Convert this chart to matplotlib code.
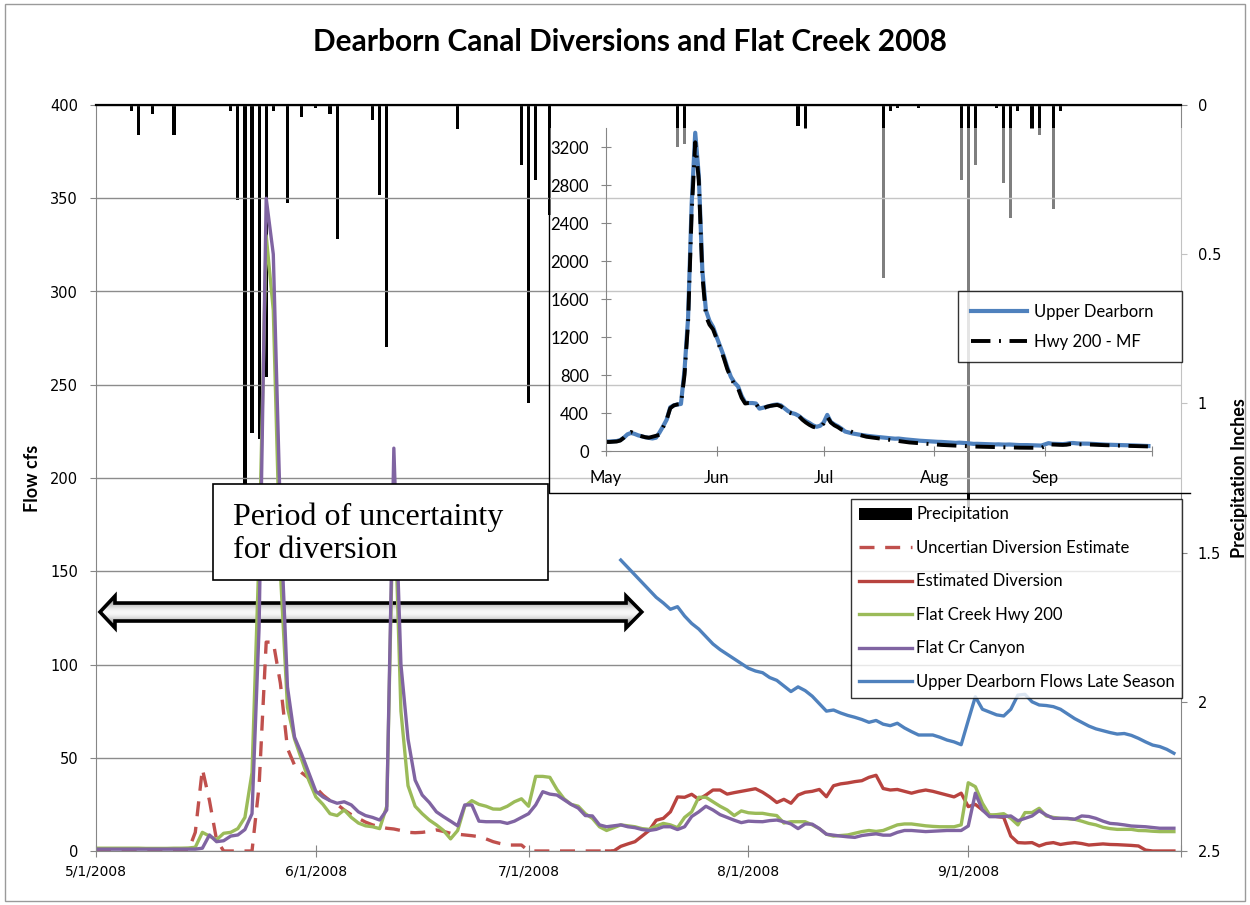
import numpy as np
import pandas as pd
import matplotlib
matplotlib.use("Agg")
import matplotlib.pyplot as plt
from matplotlib.patches import Polygon, Rectangle
from matplotlib.lines import Line2D

# daily flows, 5/1/2008 .. 9/30/2008
day = pd.date_range("2008-05-01", "2008-09-30", freq="D")

flat_creek_hwy200 = [
    1.5, 1.5, 1.5, 1.5, 1.5, 1.5, 1.5, 1.4, 1.4, 1.4, 1.4, 1.5, 1.5, 1.6,
    2.0, 10, 8, 6, 9.5, 10, 12, 18, 42, 160,
    330, 290, 150, 77, 60, 49, 38, 29, 25, 20,
    19, 22, 18, 15, 13.5, 13, 12, 24, 200, 75,
    35, 24, 20, 16.6, 14, 11, 6.5, 11, 24, 27,
    25, 24, 22.5, 22.4, 24, 26.4, 28, 24, 40, 40,
    39.5, 33, 28, 25, 24, 20, 17.5, 13, 11, 12.5,
    14, 13.5, 13, 12, 11.6, 13.4, 14.8, 14, 12.5, 18,
    21, 28.8, 28.8, 26.4, 24, 22, 19, 21.5, 20.5, 20.2,
    20.2, 19.5, 19, 15, 15.7, 15.7, 15.7, 14, 12, 9,
    8, 8.3, 8.6, 9.5, 10.4, 11, 10.5, 11, 12.5, 14,
    14.5, 14.5, 14, 13.5, 13.2, 13, 13, 13, 14, 36.6,
    34.5, 25.6, 19.3, 19.5, 20, 17.5, 14, 20.6, 20.6, 22.9,
    18.8, 18, 17.5, 17.3, 17, 16, 14.8, 14, 12.7, 12,
    11.6, 11.6, 11.6, 11, 10.9, 10.6, 10.4, 10.4, 10.4,
]

flat_cr_canyon = [
    1, 1, 1, 1, 1, 1, 1, 1, 1, 1, 1, 1, 1, 1, 1,
    1.5, 8.6, 5, 5.5, 8, 8.6, 11.5, 20, 120, 350,
    320, 180, 88, 61, 52, 42, 32, 29, 27, 25.6,
    26.4, 24.7, 21, 19, 18, 16.6, 22, 216, 100, 60,
    38, 30, 26, 21, 18.4, 16, 13.5, 24.7, 24.7, 16,
    15.7, 15.7, 15.7, 14.8, 16, 18, 20, 24.7, 31.8, 30.5,
    30, 27.5, 25, 23, 19, 18.8, 14, 13, 13.5, 14,
    13, 12.5, 11.5, 11, 11.6, 13, 13, 11.5, 13, 18.5,
    21, 24, 22, 19.5, 18, 16.5, 15.2, 16, 15.8, 15.7,
    16.3, 16.6, 15.7, 14.5, 12, 14.5, 14.4, 12, 9, 8.5,
    8, 7.6, 7.3, 8.3, 8.8, 9.2, 8.5, 8.5, 10, 11,
    11, 10.7, 10.4, 10.6, 10.8, 11, 11, 11, 13.4, 31,
    22, 18.4, 18.4, 18.4, 18.8, 16.2, 17.5, 18.8, 21.6, 19.3,
    17.5, 17.5, 17.5, 17, 18.8, 18.5, 17.5, 16, 14.8, 14.5,
    14, 13.4, 13.2, 13, 12.6, 12.2, 12.2, 12.2,
]

# 5/1 .. 7/13
uncertain_diversion = [
    0, 0, 0, 0, 0, 0, 0, 0, 0, 0, 0, 0, 0, 0,
    10, 44, 27, 6, 0, 0, 0, 0, 0, 35,
    112, 112, 90, 55, 46, 42, 39, 34, 30, 27,
    25, 22, 19.5, 17.5, 15.5, 14, 13, 12.2, 11.8, 11,
    10, 9.8, 10, 10.5, 11.3, 10.5, 9.5, 9, 8.6, 8.2,
    7.7, 6.5, 5, 4, 3.2, 3.2, 3.2, 0, 0, 0,
    0, 0, 0, 0, 0, 0, 0, 0, 0, 0,
]

# 7/12 .. 9/30
estimated_diversion = [
    0, 0, 2.5, 3.8, 5, 8, 11, 16.5, 17.5, 21,
    29, 28.8, 30.4, 27.7, 30, 32.7, 32.7, 30.5, 31.3, 32,
    32.7, 33.4, 31.5, 29, 26, 27.7, 25.6, 30, 31.5, 32,
    33, 29.1, 35, 36, 36.5, 37.2, 37.7, 39.5, 40.6, 33.5,
    32.7, 33, 32, 31, 32, 32.7, 32, 31, 30, 29,
    31, 23.8, 25, 22, 19.3, 18.5, 18, 8, 4.5, 4.3,
    4.5, 2.7, 4, 4.5, 3.5, 4.1, 4.5, 4, 3.2, 3.5,
    3.8, 3.5, 3.4, 3.2, 3, 2.7, 0.5, 0, 0, 0,
    0,
]

# Upper Dearborn, 5/1 .. 7/13 (only in the inset) and 7/14 .. 9/30
upper_dearborn_early = [
    100, 100, 102, 105, 115, 140, 175, 190, 180, 165,
    155, 145, 138, 132, 140, 195, 260, 330, 460, 480,
    490, 495, 850, 1400, 2600, 3350, 2900, 1900, 1480, 1370,
    1305, 1200, 1100, 1000, 880, 780, 720, 680, 580, 510,
    505, 505, 500, 446, 455, 465, 475, 485, 490, 480,
    450, 420, 400, 390, 370, 340, 315, 295, 270, 255,
    265, 300, 380, 305, 280, 260, 235, 205, 195, 185,
    178, 172, 166, 161,
]
upper_dearborn_late = [
    156, 152, 148, 144, 140, 136, 133, 129.6, 131, 126,
    122, 119, 115, 111, 108, 105.5, 103, 100.5, 98, 96.5,
    95.6, 93, 91.5, 88.5, 85.5, 88, 86, 83, 79, 75,
    75.6, 74, 72.7, 71.7, 70.5, 69, 70, 68, 67.2, 68.5,
    66, 64, 62.2, 62.2, 62.2, 61, 59.5, 58.5, 57, 70,
    82.7, 76, 74.5, 73, 72.4, 76, 83.6, 84, 80, 78.3,
    78, 77.4, 76, 73.5, 71, 69, 67, 65.5, 64.5, 63.5,
    62.7, 63, 62, 60.4, 58.5, 56.8, 56, 54.5, 52.4,
]

hwy200_mf = [
    95, 95, 97, 100, 110, 140, 180, 200, 185, 165,
    155, 145, 140, 150, 160, 170, 250, 330, 450, 480,
    490, 495, 800, 1350, 2500, 3250, 2850, 1850, 1420, 1330,
    1280, 1180, 1080, 980, 860, 770, 700, 660, 560, 500,
    505, 505, 500, 440, 445, 465, 475, 480, 485, 470,
    440, 410, 395, 385, 370, 330, 300, 275, 255, 245,
    250, 290, 360, 300, 270, 250, 225, 215, 215, 200,
    185, 170, 160, 150,
    145, 140, 135, 130, 125, 120, 115, 110, 105, 100,
    95, 90, 87, 84, 80, 77, 74, 71, 68, 66,
    64, 62, 60, 58, 56, 54, 52, 50, 48, 47,
    46, 45, 44, 43, 42, 41, 40, 39, 38, 38,
    37, 36, 35, 35, 34, 34, 33, 33, 33,
    50, 70, 68, 66, 65, 64, 66, 72, 74, 72,
    70, 70, 69, 68, 66, 64, 62, 61, 60, 59,
    58, 58, 57, 56, 55, 53, 52, 51, 50, 48,
]

precip_dates = [
    "2008-05-06", "2008-05-07", "2008-05-09", "2008-05-12", "2008-05-20",
    "2008-05-21", "2008-05-22", "2008-05-23", "2008-05-24", "2008-05-25",
    "2008-05-26", "2008-05-28", "2008-05-30", "2008-06-01", "2008-06-03",
    "2008-06-04", "2008-06-09", "2008-06-10", "2008-06-11", "2008-06-21",
    "2008-06-30", "2008-07-01", "2008-07-02", "2008-07-04", "2008-07-22",
    "2008-07-23", "2008-08-08", "2008-08-09", "2008-08-20", "2008-08-21",
    "2008-08-22", "2008-08-25", "2008-08-31", "2008-09-01", "2008-09-02",
    "2008-09-05", "2008-09-06", "2008-09-07", "2008-09-08", "2008-09-10",
    "2008-09-11", "2008-09-13", "2008-09-14",
]
precip_in = [
    0.02, 0.10, 0.03, 0.10, 0.02,
    0.32, 1.40, 1.10, 1.12, 0.91,
    0.02, 0.33, 0.04, 0.01, 0.03,
    0.45, 0.05, 0.30, 0.81, 0.08,
    0.20, 1.00, 0.25, 0.37, 0.14,
    0.13, 0.07, 0.08, 0.58, 0.02,
    0.01, 0.01, 0.25, 1.35, 0.20,
    0.01, 0.26, 0.38, 0.02, 0.08,
    0.10, 0.35, 0.02,
]

month_ticks = pd.to_datetime(["2008-05-01", "2008-06-01", "2008-07-01",
                              "2008-08-01", "2008-09-01", "2008-10-01"])
main_xlabels = ["5/1/2008", "6/1/2008", "7/1/2008", "8/1/2008", "9/1/2008", ""]
inset_xlabels = ["May", "Jun", "Jul", "Aug", "Sep", ""]

BLUE = "#4F81BD"
RED = "#C0504D"
GREEN = "#9BBB59"
PURPLE = "#8064A2"
GRAY = "#868686"
SANS = "Lato"

W, H = 1250, 905
def fx(px):
    return px / W
def fy(py):
    return (H - py) / H

fig = plt.figure(figsize=(12.5, 9.05), dpi=100)
fig.add_artist(Rectangle((0.004, 0.004), 0.992, 0.992, transform=fig.transFigure,
                         fill=False, ec="#9a9a9a", lw=1))

rect = [fx(96), fy(851), fx(1181) - fx(96), fy(105) - fy(851)]
ax = fig.add_axes(rect)
ax2 = ax.twinx()
deco = fig.add_axes(rect)
ax2.set_zorder(0)
deco.set_zorder(1)
ax.set_zorder(2)
ax.patch.set_visible(False)
deco.patch.set_visible(False)
deco.axis("off")

# precipitation bars hanging from the top
ax2.bar(pd.to_datetime(precip_dates), precip_in, width=0.45, color="black",
        label="Precipitation")
ax2.set_ylim(2.5, 0)
ax2.set_yticks([0, 0.5, 1, 1.5, 2, 2.5])
ax2.set_yticklabels(["0", "0.5", "1", "1.5", "2", "2.5"])
ax2.tick_params(axis="y", length=4, color=GRAY, labelsize=10.5, pad=8)
for s in ["top", "left", "bottom"]:
    ax2.spines[s].set_visible(False)
ax2.spines["right"].set_color(GRAY)

lw = 2.4
ax.plot(day[:74], uncertain_diversion, color=RED, lw=lw, dashes=(4.5, 3.2),
        label="Uncertian Diversion Estimate")
ax.plot(day[72:], estimated_diversion, color="#B8433F", lw=lw, label="Estimated Diversion")
ax.plot(day, flat_creek_hwy200, color=GREEN, lw=lw, label="Flat Creek Hwy 200")
ax.plot(day, flat_cr_canyon, color=PURPLE, lw=lw, label="Flat Cr Canyon")
ax.plot(day[74:], upper_dearborn_late, color=BLUE, lw=lw,
        label="Upper Dearborn Flows Late Season")

ax.set_xlim(pd.Timestamp("2008-05-01"), pd.Timestamp("2008-10-01"))
ax.set_ylim(0, 400)
ax.set_yticks(range(0, 401, 50))
ax.set_xticks(month_ticks)
ax.set_xticklabels(main_xlabels)
ax.grid(axis="y", color="#8c8c8c", lw=1)
ax.set_axisbelow(True)
ax.tick_params(axis="y", length=4, color=GRAY, labelsize=10.5, pad=9)
ax.tick_params(axis="x", direction="inout", length=8, color=GRAY, labelsize=10, pad=6)
for s in ["left", "bottom"]:
    ax.spines[s].set_color(GRAY)
ax.spines["right"].set_visible(False)
ax.spines["top"].set_color("black")
ax.spines["top"].set_linewidth(1.6)

fig.text(fx(33), fy(478), "Flow cfs", rotation=90, ha="center", va="center",
         family=SANS, fontweight="bold", fontsize=13)
fig.text(fx(1240), fy(478), "Precipitation Inches", rotation=90, ha="center",
         va="center", family=SANS, fontweight="bold", fontsize=13)
fig.text(fx(630), fy(42), "Dearborn Canal Diversions and Flat Creek 2008",
         ha="center", va="center", family=SANS, fontweight="bold", fontsize=21.5)

# double headed block arrow (period of uncertainty)
deco.set_xlim(0, 1)
deco.set_ylim(0, 1)
xl0, xl1, xr1, xr0 = 0.0037, 0.0175, 0.4885, 0.503
yc, ys0, ys1, yh0, yh1 = 0.3204, 0.3083, 0.3324, 0.2990, 0.3418
verts = [(xl0, yc), (xl1, yh1), (xl1, ys1), (xr1, ys1), (xr1, yh1), (xr0, yc),
         (xr1, yh0), (xr1, ys0), (xl1, ys0), (xl1, yh0)]
arrow = Polygon(verts, closed=True, fc="none", ec="black", lw=2.6, joinstyle="miter", zorder=3)
deco.add_patch(arrow)
grad = np.array([0.55, 0.7, 0.88, 1.0, 0.92, 0.72, 0.5]).reshape(-1, 1)
img = deco.imshow(grad, cmap="gray", vmin=0, vmax=1, extent=(0, 0.51, yh0, yh1),
                  aspect="auto", interpolation="bicubic", origin="upper", zorder=2)
img.set_clip_path(arrow)
deco.set_xlim(0, 1)
deco.set_ylim(0, 1)

# text box
fig.add_artist(Rectangle((fx(213), fy(580)), fx(548) - fx(213), fy(484) - fy(580),
                         transform=fig.transFigure, fc="white", ec="black", lw=1.2, zorder=5))
fig.text(fx(233), fy(503), "Period of uncertainty\nfor diversion", ha="left", va="top",
         family="Liberation Serif", fontsize=23, linespacing=1.15, zorder=6)

# main legend
h1, l1 = ax2.get_legend_handles_labels()
h2, l2 = ax.get_legend_handles_labels()
leg = fig.legend(h1 + h2, l1 + l2, loc="upper left", bbox_to_anchor=(fx(851), fy(499)),
                 bbox_transform=fig.transFigure, frameon=True, fancybox=False,
                 prop={"family": SANS, "size": 12}, handlelength=3.2, handletextpad=0.25,
                 labelspacing=1.05, borderpad=0.45, borderaxespad=0)
leg.get_frame().set_edgecolor("black")
leg.get_frame().set_linewidth(1)
leg.set_zorder(7)

# inset chart (semi transparent chart area)
fig.add_artist(Rectangle((fx(549), fy(493)), fx(1190) - fx(549), fy(128) - fy(493),
                         transform=fig.transFigure, fc=(1, 1, 1, 0.5), ec="none", zorder=3))
fig.add_artist(Line2D([fx(549), fx(549), fx(1190)], [fy(105), fy(493), fy(493)],
                      transform=fig.transFigure, color="black", lw=1, zorder=3))

ins = fig.add_axes([fx(606), fy(451), fx(1152) - fx(606), fy(128) - fy(451)])
ins.set_zorder(4)
ins.patch.set_visible(False)
ins.plot(day, upper_dearborn_early + upper_dearborn_late, color=BLUE, lw=3,
         label="Upper Dearborn")
ins.plot(day, hwy200_mf, color="black", lw=2.8, dashes=(5, 2.2, 0.5, 2.2),
         label="Hwy 200 - MF")
ins.set_xlim(pd.Timestamp("2008-05-01"), pd.Timestamp("2008-10-01"))
ins.set_ylim(0, 3400)
ins.set_yticks(range(0, 3201, 400))
ins.set_xticks(month_ticks)
ins.set_xticklabels(inset_xlabels)
for s in ["top", "right"]:
    ins.spines[s].set_visible(False)
for s in ["left", "bottom"]:
    ins.spines[s].set_color(GRAY)
ins.tick_params(axis="y", direction="inout", length=7, color=GRAY, labelsize=12, pad=9)
ins.tick_params(axis="x", direction="inout", length=7, color=GRAY, labelsize=12, pad=10)
for t in ins.get_xticklabels() + ins.get_yticklabels():
    t.set_family(SANS)
ileg = ins.legend(loc="upper left",
                  bbox_to_anchor=(fx(958), fy(363), fx(1182) - fx(958), fy(291) - fy(363)),
                  bbox_transform=fig.transFigure, mode="expand", frameon=True, fancybox=False,
                  prop={"family": SANS, "size": 12}, handlelength=3.4, handletextpad=0.4,
                  labelspacing=0.87, borderpad=0.75, borderaxespad=0)
ileg.get_frame().set_edgecolor("black")
ileg.get_frame().set_linewidth(1)

fig.savefig("out.png", dpi=100)
